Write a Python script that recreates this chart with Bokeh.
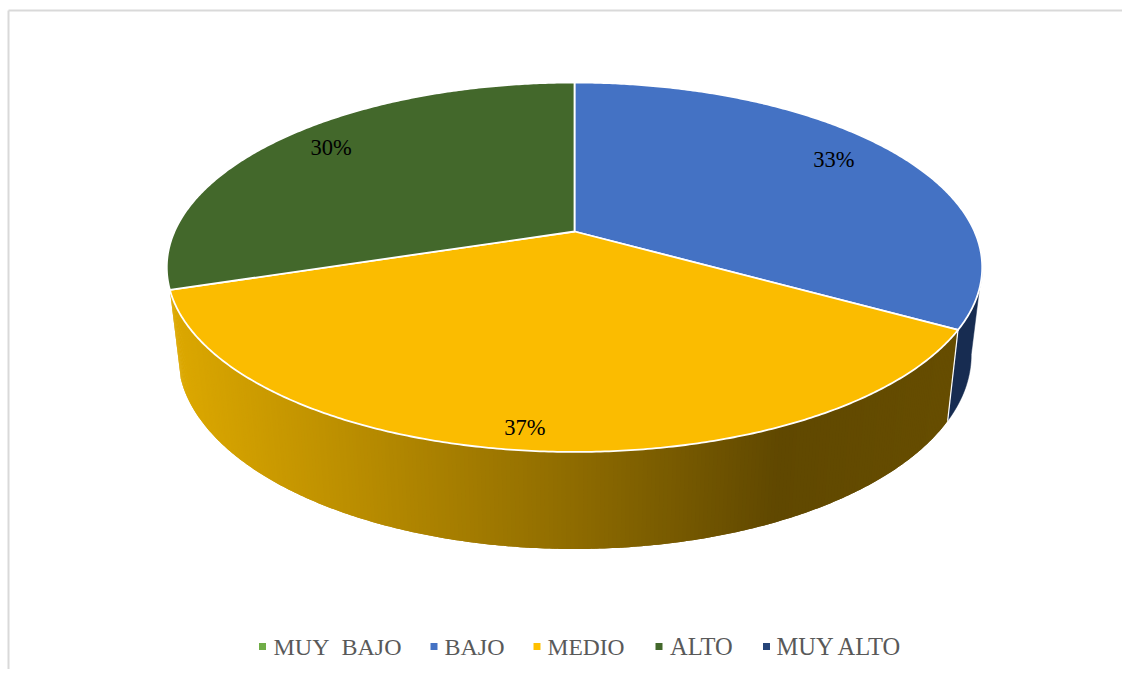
import math
from bokeh.plotting import figure
from bokeh.models import Range1d
from bokeh.core.properties import value
from bokeh.embed import file_html
from bokeh.resources import INLINE

categories = ["MUY\u00a0 BAJO", "BAJO", "MEDIO", "ALTO", "MUY ALTO"]
values = [0, 10, 11, 9, 0]
colors = ["#70AD47", "#4472C4", "#FBBC00", "#43682B", "#264478"]
legend_colors = ["#70AD47", "#4472C4", "#FFC000", "#43682B", "#264478"]
label_r = {1: (0.83, -2.0), 2: (0.915, 0.4), 3: (0.85, 2.0)}

# screen geometry of the tilted disc (picture pixels)
CX, CY = 574.0, 231.0
A, B, K = 400.0, 177.8, 0.1935
LOW_CY, LOW_SX, LOW_SY = 317.0, 0.973, 1.05

W, H = 1122, 669
p = figure(width=W, height=H, output_backend="svg", toolbar_location=None,
           x_range=Range1d(0, W), y_range=Range1d(H, 0),
           min_border=0, outline_line_color=None, background_fill_color="white",
           border_fill_color="white")
p.axis.visible = False
p.grid.visible = False


def top(deg, r=1.0):
    t = math.radians(deg)
    X, Y = r * math.sin(t), r * math.cos(t)
    d = 1 + K * Y
    return CX + A * X / d, CY - B * Y / d


def low(deg):
    t = math.radians(deg)
    X, Y = math.sin(t), math.cos(t)
    d = 1 + K * Y
    return CX + LOW_SX * A * X / d, LOW_CY - LOW_SY * B * Y / d


def frange(a, b, step=0.5):
    n = max(1, int(round(abs(b - a) / step)))
    return [a + (b - a) * i / n for i in range(n + 1)]


# frame: only its top and left edges show
p.line([8, W], [10, 10], line_color="#D9D9D9", line_width=2)
p.line([8, 8], [10, H], line_color="#D9D9D9", line_width=2)

# cumulative slice angles, clockwise from 12 o'clock
total = sum(values)
angles = [0.0]
for v in values:
    angles.append(angles[-1] + 360.0 * v / total)
a_blue1 = angles[2]
a_med1 = angles[3]

# navy wall: visible side of the BAJO slice
wall_start = 101.0
arc = frange(wall_start, a_blue1)
xs = [top(a)[0] for a in arc] + [low(a)[0] for a in reversed(arc)]
ys = [top(a)[1] for a in arc] + [low(a)[1] for a in reversed(arc)]
p.patch(xs, ys, fill_color="#172C51", line_color="#172C51", line_width=0.5)

# shaded wall of the MEDIO slice
stops = [(170, (0xDC, 0xA8, 0x00)), (300, (0xC4, 0x95, 0x00)), (570, (0x8F, 0x6C, 0x00)),
         (780, (0x60, 0x48, 0x00)), (950, (0x66, 0x4D, 0x00))]


def shade(x):
    if x <= stops[0][0]:
        c = stops[0][1]
    elif x >= stops[-1][0]:
        c = stops[-1][1]
    else:
        for (x0, c0), (x1, c1) in zip(stops, stops[1:]):
            if x0 <= x <= x1:
                f = (x - x0) / (x1 - x0)
                c = tuple(c0[i] + (c1[i] - c0[i]) * f for i in range(3))
                break
    return "#%02X%02X%02X" % tuple(int(round(v)) for v in c)


arc = frange(a_blue1, a_med1, 0.5)
sx, sy, sc = [], [], []
for j in range(len(arc) - 1):
    seg = arc[j:j + 3]  # each strip runs under the next one, so no seams show
    sx.append([top(a)[0] for a in seg] + [low(a)[0] for a in reversed(seg)])
    sy.append([top(a)[1] for a in seg] + [low(a)[1] for a in reversed(seg)])
    sc.append(shade((top(seg[0])[0] + top(seg[1])[0]) / 2))
p.patches(sx, sy, fill_color=sc, line_color=None)

# white seam between the two walls
t, l = top(a_blue1), low(a_blue1)
p.line([t[0], l[0]], [t[1], l[1]], line_color="white", line_width=1.2)

# top faces
for i, v in enumerate(values):
    if v == 0:
        continue
    arc = frange(angles[i], angles[i + 1])
    pts = [top(a) for a in arc]
    p.patch([CX] + [q[0] for q in pts], [CY] + [q[1] for q in pts],
            fill_color=colors[i], line_color="white", line_width=1.8,
            line_join="round")

# value labels
for i, (r, nudge) in label_r.items():
    a = (angles[i] + angles[i + 1]) / 2 + nudge
    x, y = top(a, r)
    p.text([x], [y], text=["%d%%" % round(100 * values[i] / total)], text_align="center",
           text_baseline="middle", text_color="#000000",
           text_font=value("Liberation Serif"), text_font_size="22.5px")

# legend
leg_sq_x = [262, 433.5, 536.5, 658.5, 766]
leg_tx_x = [273, 444, 547, 669.5, 776]
leg_sizes = ["24px", "24px", "23.5px", "24.5px", "24.5px"]
for c, name, sqx, txx, fs in zip(legend_colors, categories, leg_sq_x, leg_tx_x, leg_sizes):
    p.rect([sqx], [646], width=7, height=7, fill_color=c, line_color=None)
    p.text([txx], [646], text=[name], text_align="left", text_baseline="middle",
           text_color="#595959", text_font=value("Liberation Serif"),
           text_font_size=fs)

open("out.html", "w").write(file_html(p, INLINE))
